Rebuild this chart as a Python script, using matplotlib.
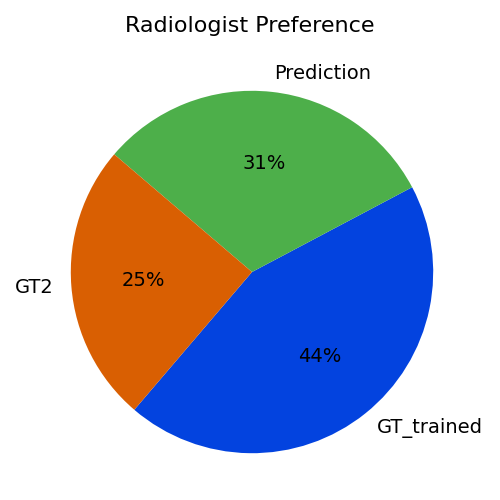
import matplotlib
matplotlib.use("Agg")
import matplotlib.pyplot as plt

# Preferencias del radiólogo
etiquetas = ["GT_trained", "Prediction", "GT2"]
valores = [44, 31, 25]
colores = ["#0343df", "#4daf4a", "#d95f02"]

fig = plt.figure(figsize=(5, 5), dpi=100)
ax = fig.add_axes([0.051, 0.003, 0.906, 0.906])
ax.pie(valores, labels=etiquetas, colors=colores, autopct="%1.0f%%",
       startangle=229.5, textprops={"fontsize": 14})
fig.suptitle("Radiologist Preference", fontsize=16, y=0.967)
fig.savefig("out.png")
